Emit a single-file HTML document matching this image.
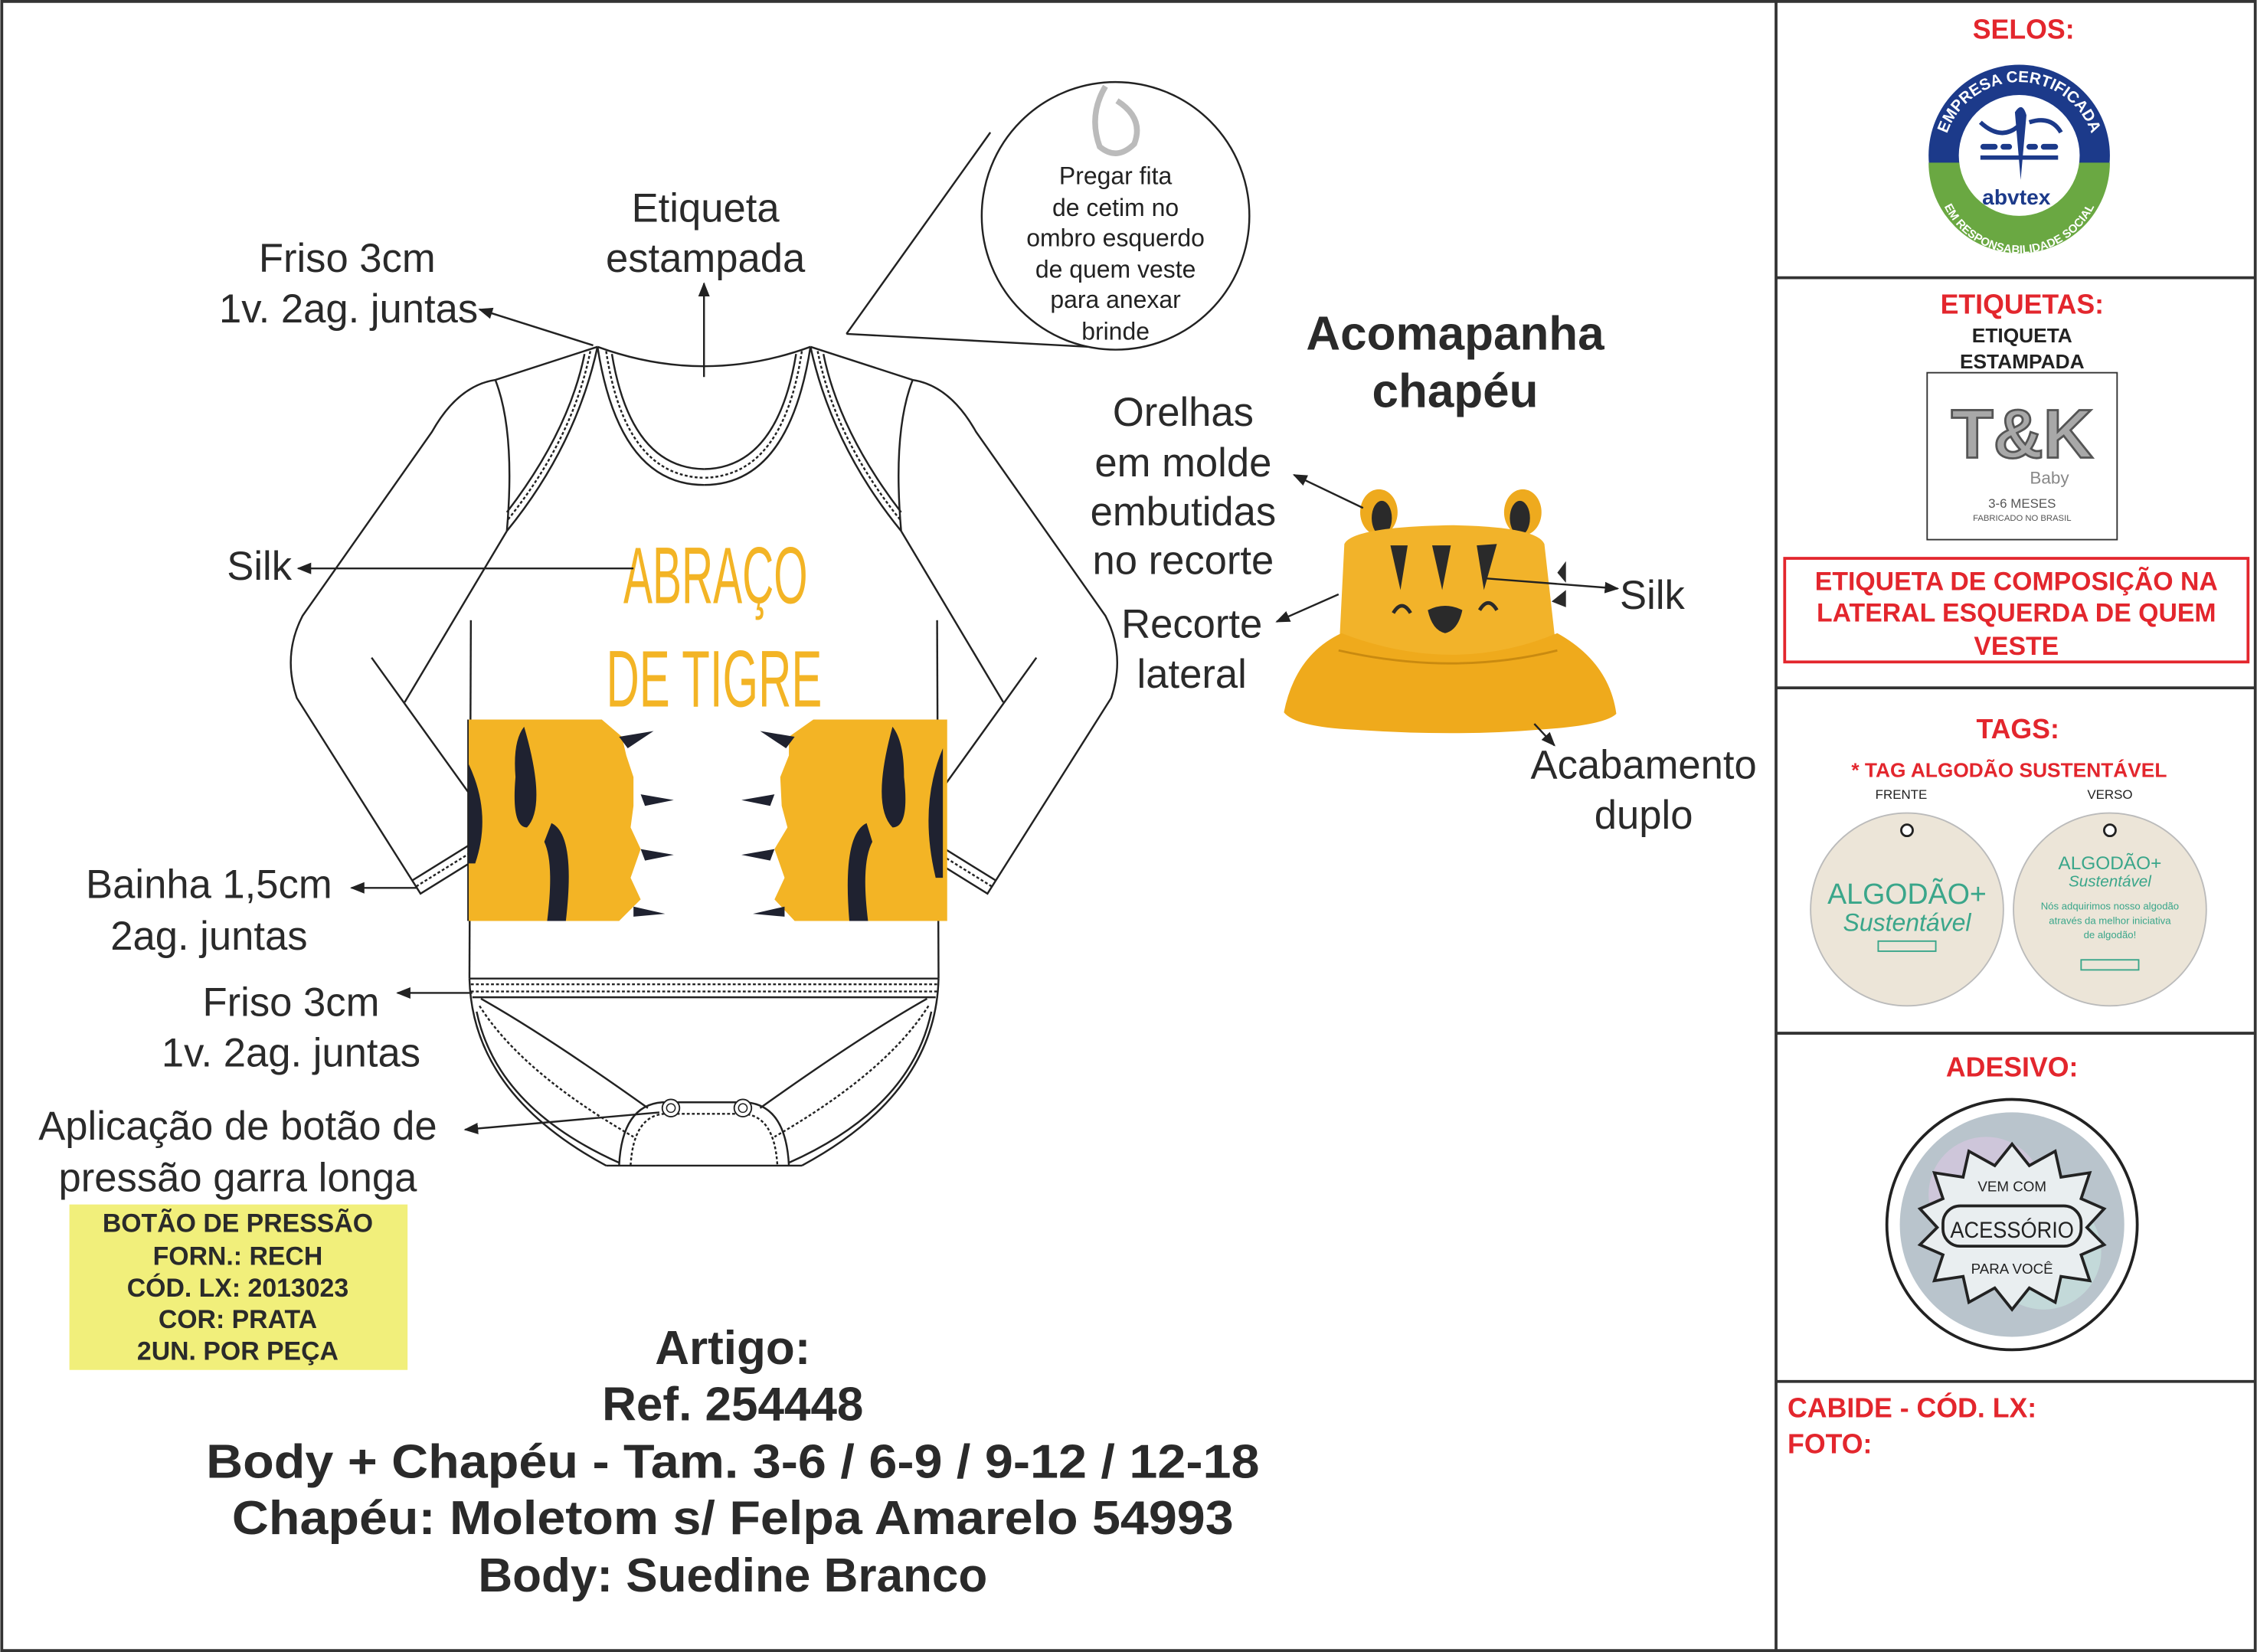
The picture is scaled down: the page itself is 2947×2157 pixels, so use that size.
<!DOCTYPE html>
<html><head><meta charset="utf-8"><style>
html,body{margin:0;padding:0;background:#fff;width:2947px;height:2157px;overflow:hidden}
svg{display:block}
text{font-family:"Liberation Sans",sans-serif}
</style></head><body>
<svg width="2947" height="2157" viewBox="0 0 1568 1148" xmlns="http://www.w3.org/2000/svg">
<defs>
<marker id="ar" markerWidth="10" markerHeight="10" refX="9" refY="5" orient="auto" markerUnits="userSpaceOnUse"><path d="M0,1 L10,5 L0,9 Z" fill="#222"/></marker>
<path id="topArc" d="M1350,110 A53,53 0 0 1 1456,110"/>
<path id="botArc" d="M1345,118 A58,58 0 0 0 1461,118"/>
</defs>
<rect x="1" y="1" width="1566" height="1146" fill="#fff" stroke="#333" stroke-width="2"/>
<line x1="1234" y1="1" x2="1234" y2="1147" stroke="#333" stroke-width="2"/>
<g stroke="#333" stroke-width="2">
<line x1="1234" y1="193" x2="1567" y2="193"/><line x1="1234" y1="478" x2="1567" y2="478"/>
<line x1="1234" y1="718" x2="1567" y2="718"/><line x1="1234" y1="960" x2="1567" y2="960"/>
</g>
<!-- right panel -->
<g font-weight="bold" fill="#e3262d" text-anchor="middle" font-size="19">
<text x="1406" y="27">SELOS:</text>
<text x="1405" y="218">ETIQUETAS:</text>
<text x="1402" y="513">TAGS:</text>
<text x="1398" y="748">ADESIVO:</text>
<text x="1396" y="540" font-size="14">* TAG ALGODÃO SUSTENTÁVEL</text>
</g>
<g font-weight="bold" fill="#e3262d" font-size="19">
<text x="1242" y="985">CABIDE - CÓD. LX:</text>
<text x="1242" y="1010">FOTO:</text>
</g>
<!-- selo -->
<circle cx="1403" cy="108" r="63" fill="#1c3a8a"/>
<path d="M1340,113 A63,63 0 0 0 1466,113 Z" fill="#6aa842"/>
<circle cx="1403" cy="108" r="42" fill="#fff"/>
<text font-size="11" font-weight="bold" fill="#fff" text-anchor="middle"><textPath href="#topArc" startOffset="50%">EMPRESA CERTIFICADA</textPath></text>
<text font-size="8" font-weight="bold" fill="#fff" text-anchor="middle"><textPath href="#botArc" startOffset="50%">EM RESPONSABILIDADE SOCIAL</textPath></text>
<g fill="#1c3a8a">
<rect x="1376" y="100" width="12" height="4" rx="2"/><rect x="1390" y="100" width="8" height="4" rx="2"/><rect x="1408" y="100" width="8" height="4" rx="2"/><rect x="1418" y="100" width="12" height="4" rx="2"/>
<rect x="1376" y="108" width="54" height="3"/>
<path d="M1400,78 Q1405,70 1408,80 L1404,125 Z"/>
</g>
<path d="M1376,85 Q1390,98 1402,88 M1410,85 Q1425,80 1432,92" stroke="#1c3a8a" stroke-width="3" fill="none"/>
<text x="1401" y="142" text-anchor="middle" font-size="15" font-weight="bold" fill="#1c3a8a">abvtex</text>
<!-- etiqueta -->
<text x="1405" y="238" text-anchor="middle" font-size="14" font-weight="bold" fill="#222">ETIQUETA</text>
<text x="1405" y="256" text-anchor="middle" font-size="14" font-weight="bold" fill="#222">ESTAMPADA</text>
<rect x="1339" y="259" width="132" height="116" fill="#fff" stroke="#333"/>
<text x="1405" y="318" text-anchor="middle" font-size="48" font-weight="bold" fill="#a8a8a8" stroke="#555" stroke-width="1.5">T&amp;K</text>
<text x="1424" y="336" text-anchor="middle" font-size="12" fill="#888">Baby</text>
<text x="1405" y="353" text-anchor="middle" font-size="9" fill="#555">3-6 MESES</text>
<text x="1405" y="362" text-anchor="middle" font-size="6" fill="#555">FABRICADO NO BRASIL</text>
<rect x="1240" y="388" width="322" height="72" fill="#fff" stroke="#e3262d" stroke-width="2"/>
<g font-weight="bold" fill="#e3262d" text-anchor="middle" font-size="18">
<text x="1401" y="410">ETIQUETA DE COMPOSIÇÃO NA</text>
<text x="1401" y="432">LATERAL ESQUERDA DE QUEM</text>
<text x="1401" y="455">VESTE</text>
</g>
<!-- tags -->
<text x="1321" y="555" text-anchor="middle" font-size="9" fill="#222">FRENTE</text>
<text x="1466" y="555" text-anchor="middle" font-size="9" fill="#222">VERSO</text>
<circle cx="1325" cy="632" r="67" fill="#ece5d8" stroke="#bbb"/>
<circle cx="1466" cy="632" r="67" fill="#ece5d8" stroke="#bbb"/>
<circle cx="1325" cy="577" r="4" fill="#fff" stroke="#222" stroke-width="1.5"/>
<circle cx="1466" cy="577" r="4" fill="#fff" stroke="#222" stroke-width="1.5"/>
<text x="1325" y="628" text-anchor="middle" font-size="20" fill="#3aa68a">ALGODÃO+</text>
<text x="1325" y="647" text-anchor="middle" font-size="17" fill="#3aa68a" font-style="italic">Sustentável</text>
<rect x="1305" y="654" width="40" height="7" fill="none" stroke="#3aa68a"/>
<text x="1466" y="604" text-anchor="middle" font-size="13" fill="#3aa68a">ALGODÃO+</text>
<text x="1466" y="616" text-anchor="middle" font-size="11" fill="#3aa68a" font-style="italic">Sustentável</text>
<text x="1466" y="632" text-anchor="middle" font-size="7" fill="#3aa68a">Nós adquirimos nosso algodão</text>
<text x="1466" y="642" text-anchor="middle" font-size="7" fill="#3aa68a">através da melhor iniciativa</text>
<text x="1466" y="652" text-anchor="middle" font-size="7" fill="#3aa68a">de algodão!</text>
<rect x="1446" y="667" width="40" height="7" fill="none" stroke="#3aa68a"/>
<!-- adesivo -->
<circle cx="1398" cy="851" r="87" fill="#fff" stroke="#222" stroke-width="2"/>
<circle cx="1398" cy="851" r="78" fill="#b9c4cc"/>
<circle cx="1380" cy="830" r="40" fill="#d7c7e0" opacity="0.7"/>
<circle cx="1420" cy="870" r="40" fill="#c8e3de" opacity="0.7"/>
<polygon points="1398,795 1410,810 1428,800 1432,818 1452,815 1446,833 1462,840 1450,853 1462,865 1446,872 1452,890 1432,887 1428,905 1410,895 1398,910 1386,895 1368,905 1364,887 1344,890 1350,872 1334,865 1346,853 1334,840 1350,833 1344,815 1364,818 1368,800 1386,810" fill="#e9eef0" stroke="#222" stroke-width="2"/>
<text x="1398" y="828" text-anchor="middle" font-size="10" fill="#222">VEM COM</text>
<rect x="1350" y="838" width="96" height="28" rx="12" fill="none" stroke="#222" stroke-width="2"/>
<text x="1398" y="860" text-anchor="middle" font-size="16" fill="#222" textLength="86" lengthAdjust="spacingAndGlyphs">ACESSÓRIO</text>
<text x="1398" y="885" text-anchor="middle" font-size="10" fill="#222">PARA VOCÊ</text>

<!-- body garment -->
<g id="half" fill="none" stroke="#222" stroke-width="1.3">
<path d="M415,241 L344,264 Q318,268 300,300 L210,428 Q196,455 206,485 L292,621 L350,585 L258,457"/>
<path d="M286,612 L344,576"/>
<path d="M289,616 L347,580" stroke-dasharray="2,1.5"/>
<path d="M281,488 L352,369"/>
<path d="M344,264 Q358,300 352,369"/>
<path d="M327,431 L326,680"/>
<path d="M415,241 Q400,310 352,369"/>
<path d="M406,246 Q395,300 352,356"/>
<path d="M410,244 Q398,305 352,362" stroke-dasharray="2,1.5"/>
<path d="M415,241 Q430,337 489,337"/>
<path d="M425,246 Q438,325 489,326"/>
<path d="M421,244 Q434,331 489,332" stroke-dasharray="2,1.5"/>
<path d="M326,680 Q328,760 421,810"/>
<path d="M334,694 Q380,720 450,770"/>
<path d="M331,703 Q345,770 430,808"/>
<path d="M333,699 Q362,745 440,790" stroke-dasharray="2,1.5"/>
</g>
<use href="#half" transform="translate(978,0) scale(-1,1)"/>
<g fill="none" stroke="#222" stroke-width="1.3">
<path d="M415,241 Q489,268 563,241"/>
<path d="M489,262 L489,262"/>
<path d="M326,680 L652,680 M328,693 L650,693"/>
<path d="M327,684 L651,684 M327,689 L651,689" stroke-dasharray="2,1.5"/>
<path d="M421,810 L557,810"/>
<path d="M430,810 Q432,768 460,766 L518,766 Q546,768 548,810"/>
<path d="M438,810 Q440,775 462,774 L516,774 Q538,775 540,810" stroke-dasharray="2,1.5"/>
</g>
<circle cx="466" cy="770" r="6" fill="#fff" stroke="#222"/><circle cx="466" cy="770" r="3" fill="none" stroke="#222" stroke-width="0.8"/>
<circle cx="516" cy="770" r="6" fill="#fff" stroke="#222"/><circle cx="516" cy="770" r="3" fill="none" stroke="#222" stroke-width="0.8"/>
<!-- silk print -->
<text x="497" y="419" text-anchor="middle" font-size="56" fill="#f3b425" textLength="128" lengthAdjust="spacingAndGlyphs">ABRAÇO</text>
<text x="496" y="491" text-anchor="middle" font-size="56" fill="#f3b425" textLength="150" lengthAdjust="spacingAndGlyphs">DE TIGRE</text>
<path d="M325,500 L418,500 L432,512 L435,525 L440,540 L440,560 L438,575 L445,590 L438,610 L445,625 L430,640 L325,640 Z" fill="#f3b425"/>
<path d="M658,500 L565,500 L548,512 L548,525 L542,540 L543,560 L547,575 L538,590 L545,610 L538,625 L552,640 L658,640 Z" fill="#f3b425"/>
<g fill="#1f2230">
<path d="M325,530 Q342,565 330,600 L325,600 Z"/><path d="M364,505 Q380,560 366,575 Q355,575 358,540 Q356,515 364,505 Z"/>
<path d="M383,572 Q400,580 393,640 L380,640 Q385,600 378,585 Z"/>
<path d="M430,512 L454,508 L436,520 Z"/><path d="M445,552 L468,556 L448,560 Z"/><path d="M445,590 L468,594 L448,598 Z"/><path d="M440,630 L462,635 L440,637 Z"/>
<path d="M655,520 Q638,560 650,610 L655,610 Z"/><path d="M620,505 Q605,560 620,575 Q632,575 628,540 Q628,515 620,505 Z"/>
<path d="M602,572 Q585,580 590,640 L603,640 Q598,600 606,585 Z"/>
<path d="M552,512 L528,508 L546,520 Z"/><path d="M538,552 L515,556 L535,560 Z"/><path d="M538,590 L515,594 L535,598 Z"/><path d="M545,630 L523,635 L545,637 Z"/>
</g>
<line x1="325" y1="500" x2="325" y2="640" stroke="#222" stroke-width="1"/>

<!-- callout circle -->
<path d="M588,232 L688,92 M588,232 L775,242" stroke="#222" stroke-width="1.3" fill="none"/>
<circle cx="775" cy="150" r="93" fill="#fff" stroke="#222" stroke-width="1.3"/>
<path d="M768,60 Q756,80 764,102 Q776,112 788,100 Q795,82 776,70" fill="none" stroke="#bbb" stroke-width="4"/>
<g font-size="17" fill="#222" text-anchor="middle">
<text x="775" y="128">Pregar fita</text><text x="775" y="150">de cetim no</text><text x="775" y="171">ombro esquerdo</text>
<text x="775" y="193">de quem veste</text><text x="775" y="214">para anexar</text><text x="775" y="236">brinde</text>
</g>

<!-- labels -->
<g font-size="28" fill="#2a2a2a" text-anchor="middle">
<text x="241" y="189">Friso 3cm</text><text x="242" y="224">1v. 2ag. juntas</text>
<text x="490" y="154">Etiqueta</text><text x="490" y="189">estampada</text>
<text x="180" y="403">Silk</text>
<text x="145" y="624">Bainha 1,5cm</text><text x="145" y="660">2ag. juntas</text>
<text x="202" y="706">Friso 3cm</text><text x="202" y="741">1v. 2ag. juntas</text>
<text x="165" y="792">Aplicação de botão de</text><text x="165" y="828">pressão garra longa</text>
<text x="822" y="296">Orelhas</text><text x="822" y="331">em molde</text><text x="822" y="365">embutidas</text><text x="822" y="399">no recorte</text>
<text x="828" y="443">Recorte</text><text x="828" y="478">lateral</text>
<text x="1148" y="423">Silk</text>
<text x="1142" y="541">Acabamento</text><text x="1142" y="576">duplo</text>
</g>

<!-- hat -->
<text x="1011" y="243" text-anchor="middle" font-size="33" font-weight="bold" fill="#2a2a2a">Acomapanha</text>
<text x="1011" y="283" text-anchor="middle" font-size="33" font-weight="bold" fill="#2a2a2a">chapéu</text>
<ellipse cx="958" cy="356" rx="13" ry="16" fill="#eeaa1e"/>
<ellipse cx="1058" cy="356" rx="13" ry="16" fill="#eeaa1e"/>
<ellipse cx="960" cy="360" rx="7" ry="12" fill="#2a2a2a"/>
<ellipse cx="1056" cy="360" rx="7" ry="12" fill="#2a2a2a"/>
<path d="M930,458 L934,378 Q940,366 1010,365 Q1068,366 1073,378 L1082,458 Z" fill="#f2b32a"/>
<path d="M932,440 Q900,455 892,495 Q900,505 940,507 Q1010,512 1070,507 Q1115,504 1123,496 Q1118,460 1082,440 Q1010,470 932,440 Z" fill="#efaa1c"/>
<path d="M930,452 Q1010,470 1082,452" stroke="#c98a10" stroke-width="1.5" fill="none"/>
<g fill="#2a2a2a">
<path d="M966,379 L978,379 L973,410 Z"/><path d="M995,379 L1008,379 L1002,410 Z"/><path d="M1026,379 L1040,378 L1031,410 Z"/>
<path d="M1082,398 L1088,390 L1088,405 Z"/><path d="M1078,418 L1088,410 L1088,422 Z"/>
</g>
<g stroke="#2a2a2a" stroke-width="2.5" fill="none">
<path d="M968,426 Q974,416 980,426 M1028,424 Q1034,414 1040,424"/>
</g>
<path d="M992,424 Q1004,418 1016,424 Q1013,438 1004,440 Q995,438 992,424 Z" fill="#2a2a2a"/>

<g stroke="#222" stroke-width="1.3" fill="none" marker-end="url(#ar)">
<path d="M412,240 L333,215"/><path d="M489,262 L489,197"/><path d="M440,395 L207,395"/>
<path d="M290,617 L244,617"/><path d="M328,690 L276,690"/><path d="M458,773 L323,785"/>
<path d="M947,353 L899,330"/><path d="M930,413 L887,432"/><path d="M1033,402 L1124,409"/><path d="M1066,503 L1080,518"/>
</g>

<!-- yellow box -->
<rect x="48" y="837" width="235" height="115" fill="#f1ef7b"/>
<g font-size="18" font-weight="bold" fill="#2a2a2a" text-anchor="middle">
<text x="165" y="856">BOTÃO DE PRESSÃO</text><text x="165" y="879">FORN.: RECH</text><text x="165" y="901">CÓD. LX: 2013023</text>
<text x="165" y="923">COR: PRATA</text><text x="165" y="945">2UN. POR PEÇA</text>
</g>
<!-- title -->
<g font-size="33" font-weight="bold" fill="#2a2a2a" text-anchor="middle">
<text x="509" y="948">Artigo:</text><text x="509" y="987">Ref. 254448</text>
<text x="509" y="1027" textLength="732" lengthAdjust="spacingAndGlyphs">Body + Chapéu - Tam. 3-6 / 6-9 / 9-12 / 12-18</text>
<text x="509" y="1066" textLength="696" lengthAdjust="spacingAndGlyphs">Chapéu: Moletom s/ Felpa Amarelo 54993</text>
<text x="509" y="1106">Body: Suedine Branco</text>
</g>
</svg>
</body></html>
